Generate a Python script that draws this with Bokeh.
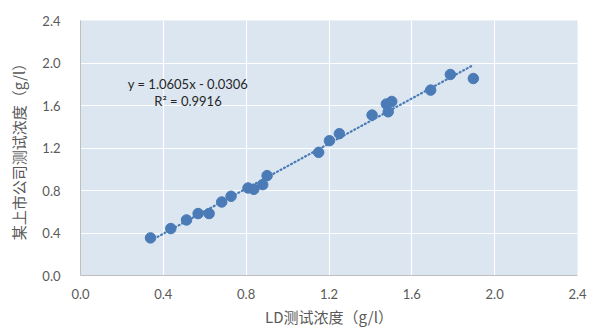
from bokeh.plotting import figure
from bokeh.models import Range1d, FixedTicker, NumeralTickFormatter, ColumnDataSource, Label
from bokeh.embed import file_html
from bokeh.resources import INLINE

# Data
ld_values = [0.338, 0.436, 0.512, 0.568, 0.621, 0.682, 0.727, 0.809, 0.837, 0.880,
             0.901, 1.150, 1.202, 1.250, 1.408, 1.477, 1.486, 1.503, 1.691, 1.786, 1.897]
co_values = [0.354, 0.442, 0.523, 0.583, 0.583, 0.692, 0.746, 0.824, 0.811, 0.855,
             0.940, 1.159, 1.269, 1.335, 1.510, 1.614, 1.541, 1.638, 1.745, 1.892, 1.854]

slope = 1.0605
intercept = -0.0306
r2 = 0.9916

ticks = [0.0, 0.4, 0.8, 1.2, 1.6, 2.0, 2.4]

x_title = "LD测试浓度（g/l）"
y_title = "某上市公司测试浓度（g/l）"

color = "#4a7bb7"
tick_font = "Lato"
cjk_font = "Noto Sans CJK SC"

p = figure(frame_width=497, frame_height=255,
           min_border_left=80, min_border_right=12, min_border_top=20, min_border_bottom=46,
           x_range=Range1d(0, 2.4), y_range=Range1d(0, 2.4),
           output_backend="svg", toolbar_location=None)

p.background_fill_color = "#dce6f1"
p.border_fill_color = "white"
p.outline_line_color = None

for g in (p.xgrid, p.ygrid):
    g.grid_line_color = "white"
    g.grid_line_width = 1.2
p.xgrid.ticker = FixedTicker(ticks=ticks)
p.ygrid.ticker = FixedTicker(ticks=ticks)

for ax in (p.xaxis, p.yaxis):
    ax.ticker = FixedTicker(ticks=ticks)
    ax.formatter = NumeralTickFormatter(format="0.0")
    ax.axis_line_color = "#bfbfbf"
    ax.axis_line_width = 1
    ax.major_tick_line_color = None
    ax.minor_tick_line_color = None
    ax.major_label_text_font = tick_font
    ax.major_label_text_font_size = "13px"
    ax.major_label_text_color = "#595959"
    ax.axis_label_text_font = cjk_font
    ax.axis_label_text_font_style = "normal"
    ax.axis_label_text_font_size = "15px"
    ax.axis_label_text_color = "#595959"

p.xaxis.major_label_standoff = 7
p.yaxis.major_label_standoff = 14
p.xaxis.axis_label = x_title
p.yaxis.axis_label = y_title
p.xaxis.axis_label_standoff = 4
p.yaxis.axis_label_standoff = 10

# Trendline
x0, x1 = min(ld_values), max(ld_values)
p.line([x0, x1], [slope * x0 + intercept, slope * x1 + intercept],
       line_color=color, line_width=2.2, line_dash="1 3", line_cap="round")

src = ColumnDataSource(dict(x=ld_values, y=co_values))
p.scatter("x", "y", source=src, size=10.5, fill_color=color, line_color=color)

eq_text = f"y = {slope:.4f}x - {abs(intercept):.4f}"
r2_text = f"R² = {r2:.4f}"
p.add_layout(Label(x=0.519, y=1.805, text=eq_text, text_align="center", text_baseline="middle",
                   text_font=tick_font, text_font_size="13px", text_color="#262626"))
p.add_layout(Label(x=0.519, y=1.645, text=r2_text, text_align="center", text_baseline="middle",
                   text_font=tick_font, text_font_size="13px", text_color="#262626"))

open("out.html", "w").write(file_html(p, INLINE))
